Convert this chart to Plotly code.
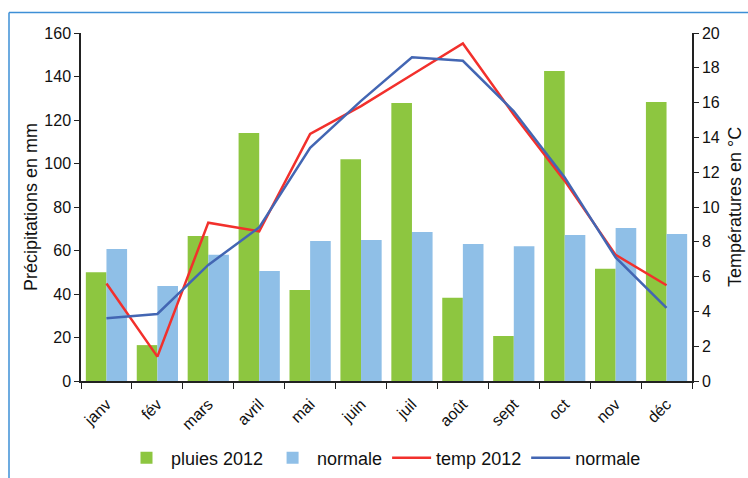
import plotly.graph_objects as go

mois = ["janv", "fév", "mars", "avril", "mai", "juin", "juil", "août", "sept", "oct", "nov", "déc"]
pluies_2012 = [50, 16.5, 66.7, 114, 41.8, 102, 127.8, 38.3, 20.7, 142.5, 51.6, 128.3]
pluies_normale = [60.7, 43.7, 58, 50.6, 64.4, 64.8, 68.5, 63, 62, 67.1, 70.3, 67.6]
temp_2012 = [5.6, 1.4, 9.1, 8.6, 14.2, 15.8, 17.6, 19.4, 15.3, 11.5, 7.25, 5.5]
temp_normale = [3.6, 3.85, 6.67, 8.83, 13.4, 16.1, 18.6, 18.4, 15.5, 11.7, 7.1, 4.2]

FONT = "Liberation Sans, Arial, sans-serif"

fig = go.Figure()
fig.add_trace(go.Bar(x=mois, y=pluies_2012, name="pluies 2012", marker_color="#8dc640", marker_line_width=0))
fig.add_trace(go.Bar(x=mois, y=pluies_normale, name="normale", marker_color="#8fbfe7", marker_line_width=0))
fig.add_trace(go.Scatter(x=mois, y=temp_2012, name="temp 2012", mode="lines",
                         line=dict(color="#f2302c", width=2.5), yaxis="y2"))
fig.add_trace(go.Scatter(x=mois, y=temp_normale, name="normale", mode="lines",
                         line=dict(color="#4366b3", width=2.5), yaxis="y2"))

W, H = 748, 478
L, R, T, B = 81, 56, 33, 97
pw, ph = W - L - R, H - T - B


def px(x):
    """page x pixel -> paper coordinate"""
    return (x - L) / pw


def py(y):
    """page y pixel -> paper coordinate"""
    return (H - B - y) / ph


fig.update_layout(
    width=W, height=H,
    margin=dict(l=L, r=R, t=T, b=B, autoexpand=False),
    paper_bgcolor="white", plot_bgcolor="white",
    font=dict(family=FONT, size=15, color="#111111"),
    barmode="group", bargap=0.19, bargroupgap=0,
    showlegend=True,
    legend=dict(orientation="h", xref="container", yref="container",
                x=122 / W, xanchor="left", y=1 - 458 / H, yanchor="middle",
                font=dict(size=18), traceorder="normal", tracegroupgap=0, itemwidth=39),
    xaxis=dict(showline=True, linecolor="#222222", linewidth=1.5, ticks="outside",
               tickson="boundaries", ticklen=6, tickcolor="#222222", tickangle=-45,
               tickfont=dict(size=16), showgrid=False, ticklabelstandoff=6, automargin=False),
    yaxis=dict(range=[0, 160], dtick=20, showline=True, linecolor="#222222", linewidth=1.5,
               ticks="outside", ticklen=5, tickcolor="#222222", showgrid=False, zeroline=False,
               tickfont=dict(size=16), automargin=False),
    yaxis2=dict(range=[0, 20], dtick=2, overlaying="y", side="right", showline=True,
                linecolor="#222222", linewidth=1.5, ticks="outside", ticklen=5,
                tickcolor="#222222", showgrid=False, zeroline=False, tickfont=dict(size=16),
                automargin=False),
    annotations=[
        dict(text="Précipitations en mm", xref="paper", yref="paper", x=px(31), y=py(207),
             xanchor="center", yanchor="middle", textangle=-90, showarrow=False,
             font=dict(size=18)),
        dict(text="Températures en °C", xref="paper", yref="paper", x=px(735), y=py(207),
             xanchor="center", yanchor="middle", textangle=-90, showarrow=False,
             font=dict(size=18)),
    ],
    shapes=[
        dict(type="line", xref="paper", yref="paper", x0=px(9), x1=px(9), y0=py(12.5), y1=py(490),
             line=dict(color="#3d8fd6", width=1.5)),
        dict(type="line", xref="paper", yref="paper", x0=px(9), x1=px(760), y0=py(12.5), y1=py(12.5),
             line=dict(color="#3d8fd6", width=1.5)),
    ],
)

fig.write_html(
    "out.html",
    config={"displayModeBar": False},
    post_script="document.body.style.margin='0';document.body.style.overflow='hidden';",
)
